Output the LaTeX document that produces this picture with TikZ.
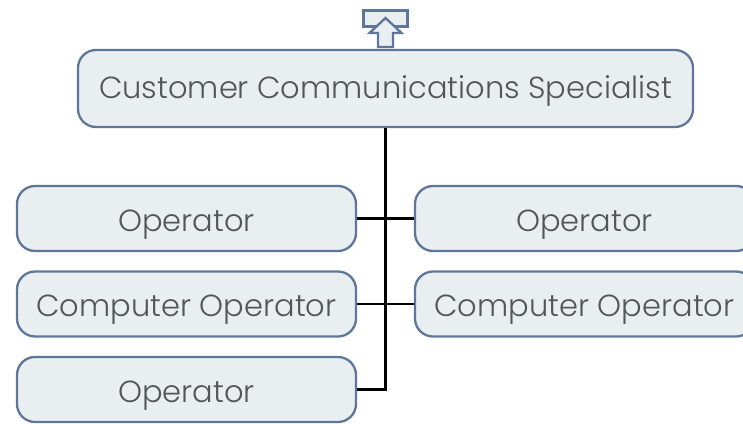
\documentclass[tikz,border=0pt]{standalone}
\usepackage{fontspec}
\setmainfont{Poppins Light}
\begin{document}
\begin{tikzpicture}[x=1pt,y=-1pt,
  box/.style={draw=boxline,fill=boxfill,line width=2.3pt,rounded corners=18pt,
    text=textgray,font=\fontsize{30.5}{35}\selectfont,inner sep=0pt,
    text height=25pt,text depth=0pt},
  conn/.style={line width=2.5pt,black}]
\definecolor{boxline}{HTML}{5E7699}
\definecolor{boxfill}{HTML}{E9EEF1}
\definecolor{textgray}{HTML}{555555}
\useasboundingbox (0,0) rectangle (743,423);
\begin{scope}
\clip (0,0) rectangle (743,423);
\node[box,minimum width=615pt,minimum height=77pt,text height=20pt] (top) at (385.5,88.5) {Customer Communications Specialist};
\node[box,minimum width=339pt,minimum height=65pt] (l1) at (186.5,218.5) {Operator};
\node[box,minimum width=339pt,minimum height=65pt] (l2) at (186.5,304) {Computer Operator};
\node[box,minimum width=339pt,minimum height=65pt] (l3) at (186.5,389.5) {Operator};
\node[box,minimum width=339pt,minimum height=65pt] (r1) at (584.5,218.5) {Operator};
\node[box,minimum width=339pt,minimum height=65pt] (r2) at (584.5,304) {Computer Operator};
\coordinate (j3) at (top.south |- l3.east);
\draw[conn] (top.south) -- (j3) -- (l3.east);
\draw[conn] (l1.east) -- (r1.west);
\draw[conn] (l2.east) -- (r2.west);
% collapse icon
\draw[boxline,fill=boxfill,line width=2.3pt] (363.5,10.5) rectangle (407.5,26.5);
\draw[boxline,fill=boxfill,line width=2.3pt,line join=miter]
  (385.5,18) -- (401.5,33) -- (393,33) -- (393,47) -- (378,47) -- (378,33) -- (369.5,33) -- cycle;
\end{scope}
\end{tikzpicture}
\end{document}
